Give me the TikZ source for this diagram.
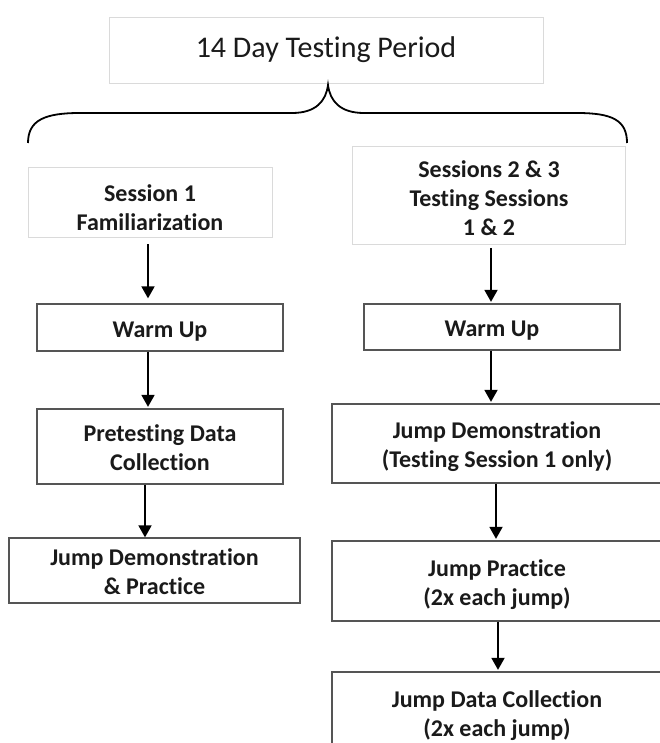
\documentclass[tikz,border=0pt]{standalone}
\usepackage{fontspec}
\setmainfont{Carlito}[Ligatures=NoCommon]
\usetikzlibrary{arrows.meta}

\definecolor{ink}{HTML}{1A1A1A}
\definecolor{boxgray}{HTML}{555555}
\definecolor{palegray}{HTML}{DADADA}

\tikzset{
  box/.style={draw=boxgray, line width=1.3pt, fill=white, inner sep=0pt,
    align=center, text=ink, font=\bfseries\fontsize{24}{29}\selectfont},
  palebox/.style={box, draw=palegray, line width=0.9pt},
  arr/.style={-{Triangle[length=12pt,width=13pt]}, line width=1.8pt, black,
    shorten >=1.5pt},
  bracepath/.style={line width=1.8pt, black},
}

% every text line gets the same height and depth
\newcommand{\txtline}[1]{\rule[-5pt]{0pt}{29pt}#1}

\begin{document}
\begin{tikzpicture}[x=1pt, y=-1pt]
\useasboundingbox (0,0) rectangle (660,743);
\clip (0,0) rectangle (660,743);

% header box
\node[palebox, minimum width=434pt, minimum height=66pt,
      font=\fontsize{30}{36}\selectfont] (title) at (326,50) {\strut 14 Day Testing Period};

% curly brace below the header
\coordinate (bl) at (28,143);
\coordinate (cusp) at (328,85);
\coordinate (br) at (627,143);
\draw[bracepath] (bl) .. controls (28,120) and (45,113) .. (80,113) -- (292,113)
  .. controls (316,113) and (326,101) .. (cusp)
  .. controls (330,101) and (340,113) .. (364,113) -- (577,113)
  .. controls (612,113) and (627,120) .. (br);

% session headers (the first one's second line is cut off at the bottom)
\node[palebox, minimum width=244pt, minimum height=70pt] (s1) at (150,202) {};
\begin{scope}
  \clip (s1.north west) rectangle ([yshift=8pt]s1.south east);
  \node[box, draw=none, fill=none] (s1txt) at ([yshift=-4pt]s1.center)
    {\txtline{Session 1}\\\txtline{Familiarization}};
\end{scope}
\node[palebox, minimum width=273pt, minimum height=98pt] (s23) at (489,195.5) {};
\node[box, draw=none, fill=none] (s23txt) at ([yshift=-1.5pt]s23.center)
  {\txtline{Sessions 2 \& 3}\\\txtline{Testing Sessions}\\\txtline{1 \& 2}};

% left column
\node[box, minimum width=246pt, minimum height=47pt] (wu1) at (160,327.5) {\txtline{Warm Up}};
\node[box, minimum width=246pt, minimum height=75pt] (pre) at (160,446.5)
  {\txtline{Pretesting Data}\\\txtline{Collection}};
\node[box, minimum width=291pt, minimum height=65pt] (jdp) at (154.5,570.5)
  {\txtline{Jump Demonstration}\\\txtline{\& Practice}};

% right column
\node[box, minimum width=256pt, minimum height=46pt] (wu2) at (492,327) {\txtline{Warm Up}};
\node[box, minimum width=330pt, minimum height=79pt] (jd) at (497,443.5)
  {\txtline{Jump Demonstration}\\\txtline{(Testing Session 1 only)}};
\node[box, minimum width=330pt, minimum height=80pt] (jp) at (497,581)
  {\txtline{Jump Practice}\\\txtline{(2x each jump)}};
\node[box, minimum width=330pt, minimum height=80pt] (jdc) at (497,712)
  {\txtline{Jump Data Collection}\\\txtline{(2x each jump)}};

% arrow columns
\coordinate (axa) at (148,0);
\coordinate (axb) at (145,0);
\coordinate (axc) at (491,0);
\coordinate (axd) at (496,0);
\coordinate (axe) at (498,0);

\draw[arr, shorten <=7pt, shorten >=5pt] (s1.south -| axa) -- (wu1.north -| axa);
\draw[arr] (wu1.south -| axa) -- (pre.north -| axa);
\draw[arr, shorten >=0pt] (pre.south -| axb) -- (jdp.north -| axb);

\draw[arr, shorten <=3pt] (s23.south -| axc) -- (wu2.north -| axc);
\draw[arr] (wu2.south -| axc) -- (jd.north -| axc);
\draw[arr] (jd.south -| axd) -- (jp.north -| axd);
\draw[arr] (jp.south -| axe) -- (jdc.north -| axe);
\end{tikzpicture}
\end{document}
